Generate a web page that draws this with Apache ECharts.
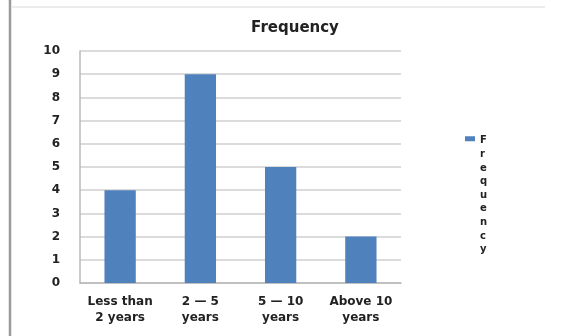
<!DOCTYPE html>
<html>
<head>
<meta charset="utf-8">
<script src="https://cdn.jsdelivr.net/npm/echarts@6/dist/echarts.min.js"></script>
<style>
html,body{margin:0;padding:0;background:#fff;}
#chart{width:562px;height:336px;}
</style>
</head>
<body>
<div id="chart"></div>
<script>
var categories = ['Less than\n2 years', '2 — 5\nyears', '5 — 10\nyears', 'Above 10\nyears'];
var frequency = [4, 9, 5, 2];
var seriesName = 'Frequency';
var titleText = 'Frequency';

var chart = echarts.init(document.getElementById('chart'), null, {renderer: 'canvas'});
var fontFam = '"DejaVu Sans", Verdana, sans-serif';
chart.setOption({
  backgroundColor: '#ffffff',
  animation: false,
  title: {
    text: titleText,
    left: 290,
    top: 16,
    textAlign: 'center',
    textStyle: {fontFamily: fontFam, fontSize: 15, fontWeight: 'bold', color: '#222'}
  },
  legend: {
    orient: 'vertical',
    left: 460,
    top: 129,
    itemWidth: 10,
    itemHeight: 122,
    icon: 'path://M0,4h10v5h-10z M0,122h0.01v0.01h-0.01z',
    itemStyle: {borderWidth: 0},
    formatter: function (name) { return name.split('').join('\n'); },
    textStyle: {fontFamily: fontFam, fontSize: 10, fontWeight: 'bold', color: '#222', lineHeight: 13.6}
  },
  grid: {left: 80, right: 161, top: 51, bottom: 53, containLabel: false},
  xAxis: {
    type: 'category',
    data: categories,
    axisLine: {lineStyle: {color: '#b8b8b8', width: 1.5}},
    axisTick: {show: false},
    axisLabel: {fontFamily: fontFam, fontSize: 12, fontWeight: 'bold', color: '#222', lineHeight: 16, margin: 11, interval: 0}
  },
  yAxis: {
    type: 'value',
    min: 0, max: 10, interval: 1,
    axisLine: {show: true, lineStyle: {color: '#b8b8b8', width: 1.5}},
    axisTick: {show: false},
    splitLine: {lineStyle: {color: '#cfcfcf', width: 1.5}},
    axisLabel: {fontFamily: fontFam, fontSize: 12, fontWeight: 'bold', color: '#222', margin: 20}
  },
  graphic: [
    {type: 'line', shape: {x1: 10, y1: 0, x2: 10, y2: 336}, style: {stroke: '#9a9a9a', lineWidth: 2.5}, silent: true},
    {type: 'line', shape: {x1: 11, y1: 7, x2: 545, y2: 7}, style: {stroke: '#ececec', lineWidth: 2}, silent: true}
  ],
  series: [{
    name: seriesName,
    type: 'bar',
    data: frequency,
    barCategoryGap: '61%',
    itemStyle: {color: '#4f81bd'}
  }]
});
</script>
</body>
</html>
